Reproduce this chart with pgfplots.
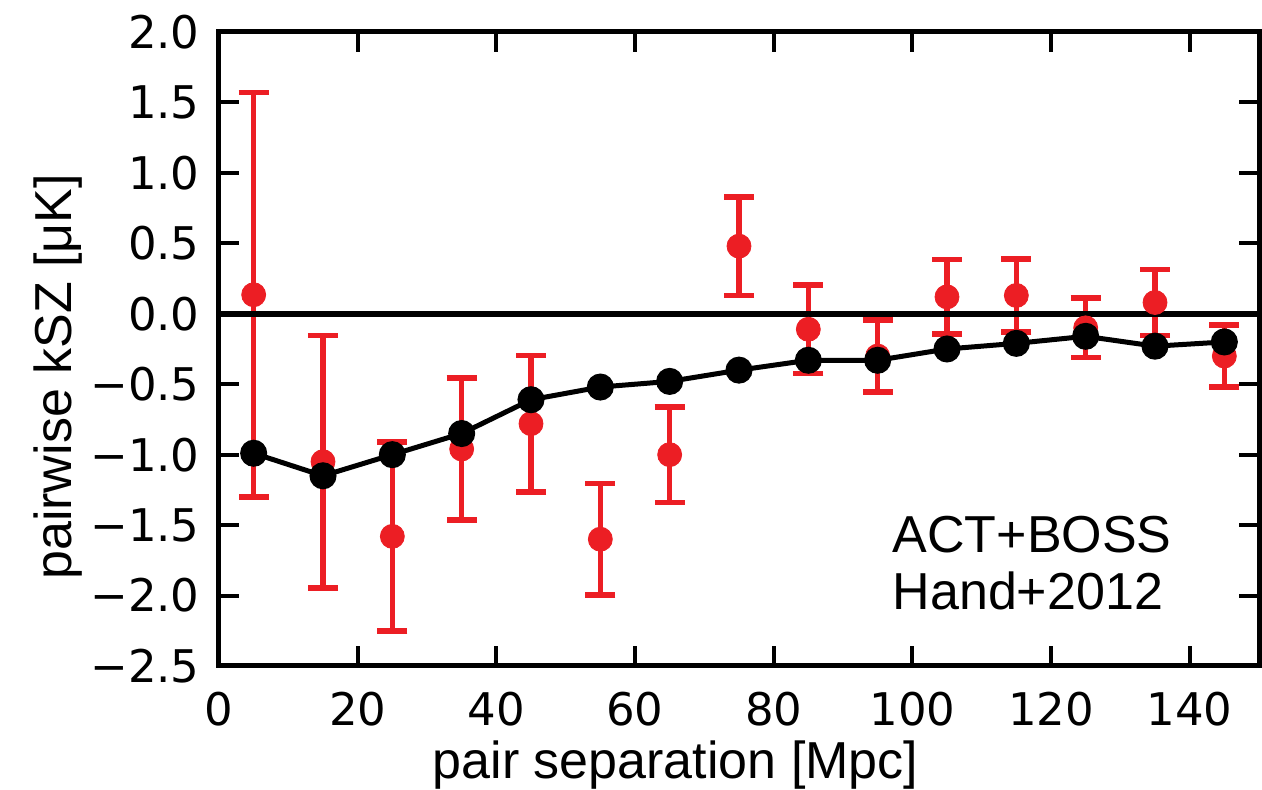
\documentclass[border=0pt]{standalone}
\usepackage{fontspec}
\setmainfont{Liberation Sans}
\newfontfamily\tickfont{DejaVu Sans}
\usepackage{pgfplots}
\usepackage{pgfplotstable}
\pgfplotsset{compat=1.18}
\definecolor{kred}{RGB}{236,30,36}

\pgfplotstableread{
x y e
5 0.135 1.435
15 -1.05 0.897
25 -1.58 0.67
35 -0.96 0.505
45 -0.78 0.485
55 -1.60 0.395
65 -1.00 0.34
75 0.48 0.35
85 -0.11 0.315
95 -0.30 0.255
105 0.12 0.265
115 0.13 0.26
125 -0.10 0.21
135 0.08 0.235
145 -0.30 0.22
}\redtab

\pgfplotstableread{
x y
5 -0.99
15 -1.15
25 -1.00
35 -0.85
45 -0.61
55 -0.52
65 -0.48
75 -0.40
85 -0.33
95 -0.33
105 -0.25
115 -0.21
125 -0.16
135 -0.23
145 -0.20
}\blacktab

\begin{document}
\begin{tikzpicture}
\begin{axis}[
  scale only axis,
  width=520pt, height=317pt,
  xmin=0, xmax=150, ymin=-2.5, ymax=2.0,
  axis line style={line width=2.5pt},
  tick align=inside,
  major tick length=10pt,
  every tick/.style={black, line width=2pt},
  xtick={0,20,40,60,80,100,120,140},
  xticklabels={0,20,40,60,80,100,120,140},
  ytick={-2.5,-2.0,-1.5,-1.0,-0.5,0,0.5,1.0,1.5,2.0},
  yticklabels={−2.5,−2.0,−1.5,−1.0,−0.5,0.0,0.5,1.0,1.5,2.0},
  tick label style={font=\tickfont\fontsize{22.5}{26}\selectfont},
  yticklabel style={inner sep=0pt, xshift=-9.5pt},
  xticklabel style={inner sep=0pt, yshift=-13pt},
  xlabel={pair separation [Mpc]},
  ylabel={pairwise kSZ [μK]},
  label style={font=\fontsize{26}{31}\selectfont},
  xlabel style={at={(axis description cs:0.439,-0.1767)}, anchor=base},
  ylabel style={at={(axis description cs:-0.155,0.456)}, anchor=center},
  clip=false,
]
\addplot[only marks, mark=*, mark size=6pt, color=kred,
  mark options={draw=kred, fill=kred},
  error bars/.cd, y dir=both, y explicit,
  error mark=|,
  error bar style={line width=2.8pt, kred},
  error mark options={line width=2.8pt, mark size=7.5pt, kred}]
  table[x=x, y=y, y error=e] {\redtab};
\addplot[black, line width=3pt, no marks] coordinates {(0,0) (150,0)};
\addplot[black, line width=2.5pt, mark=*, mark size=5.5pt,
  mark options={fill=black}] table[x=x, y=y] {\blacktab};
\node[anchor=base west, inner sep=0pt, font=\fontsize{26}{31}\selectfont] at (axis cs:97.1,-1.695) {ACT+BOSS};
\node[anchor=base west, inner sep=0pt, font=\fontsize{26}{31}\selectfont] at (axis cs:97.1,-2.10) {Hand+2012};
\end{axis}
\path (current axis.south west) ++(-109.5pt,-62pt) coordinate (bl);
\path (current axis.north east) ++(1.5pt,16pt) coordinate (tr);
\pgfresetboundingbox
\path[use as bounding box] (bl) rectangle (tr);
\end{tikzpicture}
\end{document}
